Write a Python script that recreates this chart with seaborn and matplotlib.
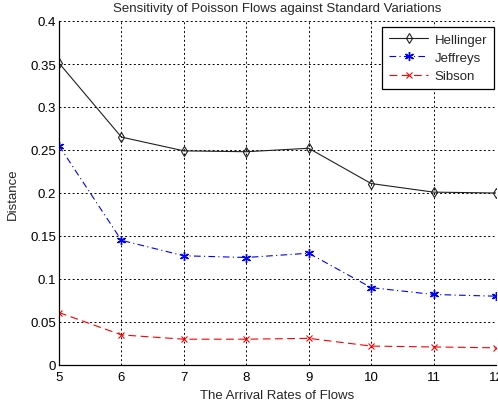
import matplotlib
matplotlib.use("Agg")
import matplotlib.pyplot as plt
import seaborn as sns
import pandas as pd

rates = [5, 6, 7, 8, 9, 10, 11, 12]
hellinger = [0.351, 0.265, 0.249, 0.248, 0.252, 0.211, 0.201, 0.200]
jeffreys = [0.255, 0.145, 0.127, 0.125, 0.130, 0.090, 0.082, 0.080]
sibson = [0.061, 0.035, 0.030, 0.030, 0.031, 0.022, 0.021, 0.020]

sns.set_style("white")
plt.rcParams["font.family"] = ["Liberation Sans", "DejaVu Sans"]

fig = plt.figure(figsize=(4.98, 4.06), dpi=100)
ax = fig.add_axes([59 / 498, 40 / 406, 437 / 498, 344 / 406])

series = [
    ("Hellinger", hellinger, "#202020", "-", "d", dict(mfc="none", ms=5.5, mew=0.8)),
    ("Jeffreys", jeffreys, "blue", (0, (6, 3, 1, 3)), (6, 2, 0), dict(ms=6.5, mew=1.0)),
    ("Sibson", sibson, "red", (0, (7, 4)), "x", dict(ms=4.5, mew=0.8)),
]
for name, vals, color, ls, mk, kw in series:
    df = pd.DataFrame({"rate": rates, "dist": vals})
    sns.lineplot(data=df, x="rate", y="dist", ax=ax, color=color, linestyle=ls,
                 marker=mk, mec=color, lw=0.8, label=name, **kw)

ax.set_xlim(5, 12)
ax.set_ylim(0, 0.4)
ax.set_xticks(rates)
ax.set_yticks([0, 0.05, 0.1, 0.15, 0.2, 0.25, 0.3, 0.35, 0.4])
ax.set_yticklabels(["0", "0.05", "0.1", "0.15", "0.2", "0.25", "0.3", "0.35", "0.4"])
ax.grid(True, color="black", linestyle=(0, (2, 2.5)), linewidth=0.7)
ax.tick_params(direction="in", length=4, labelsize=9.5, colors="black", width=0.6)
ax.tick_params(axis="x", pad=4)
ax.tick_params(axis="y", pad=2)
ax.spines["top"].set_visible(False)
ax.spines["right"].set_visible(False)
for sp in ("left", "bottom"):
    ax.spines[sp].set_color("black")
    ax.spines[sp].set_linewidth(0.9)

ax.set_title("Sensitivity of Poisson Flows against Standard Variations", fontsize=9.5, pad=7)
ax.set_xlabel("The Arrival Rates of Flows", fontsize=9.5, labelpad=5)
ax.set_ylabel("Distance", fontsize=9.5, labelpad=8)

leg = ax.legend(loc="upper right", bbox_to_anchor=(0.9954, 0.9826), borderaxespad=0,
                fontsize=9.5, frameon=True, fancybox=False, edgecolor="black",
                framealpha=1, handlelength=3.0, labelspacing=0.45, borderpad=0.5,
                handletextpad=0.5)
leg.get_frame().set_linewidth(0.9)

fig.savefig("out.png", dpi=100)
